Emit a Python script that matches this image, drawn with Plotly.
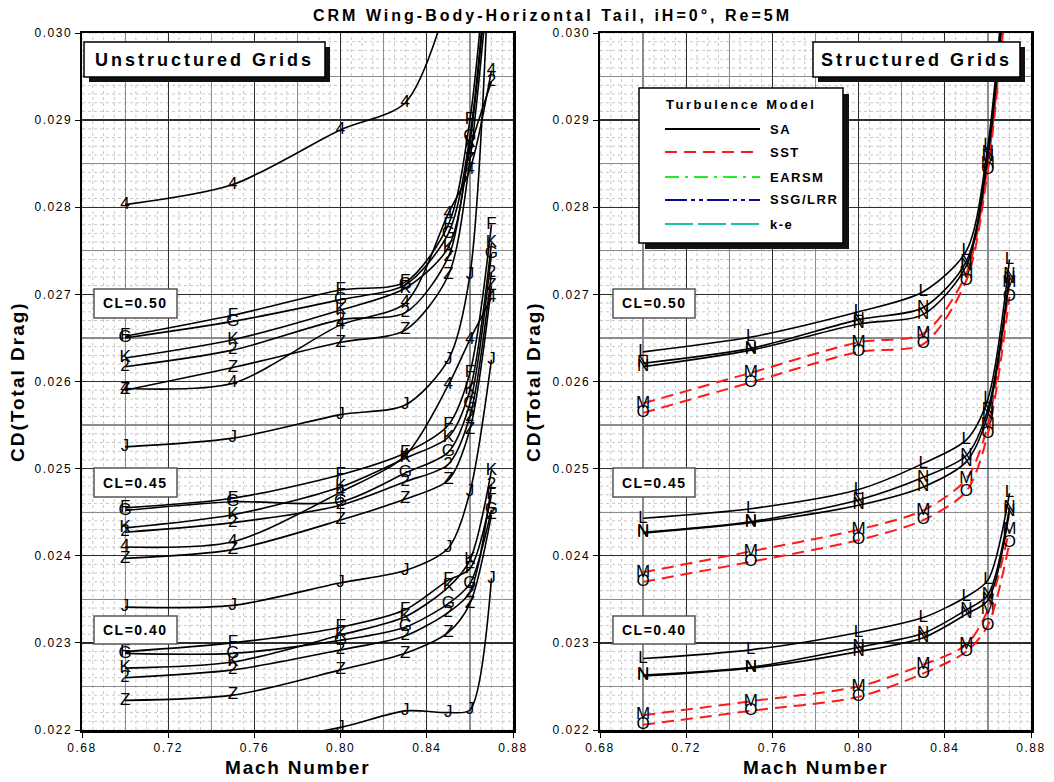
import plotly.graph_objects as go

W, H = 1054, 782

# ---------------- data ----------------
MACH = [0.70, 0.75, 0.80, 0.83, 0.85, 0.86, 0.87]

# Unstructured grids (left panel)
U50_F = [0.02652, 0.02676, 0.02705, 0.02714, 0.02780, 0.02900, 0.03160]
U50_G = [0.02650, 0.02669, 0.02694, 0.02711, 0.02770, 0.02881, 0.03140]
U50_K = [0.02627, 0.02648, 0.02682, 0.02707, 0.02754, 0.02874, 0.03120]
U50_2 = [0.02617, 0.02636, 0.02671, 0.02679, 0.02743, 0.02866, 0.02944]
U50_Z = [0.02590, 0.02616, 0.02645, 0.02659, 0.02722, 0.02854, 0.03100]

U45_F = [0.02455, 0.02466, 0.02493, 0.02518, 0.02550, 0.02610, 0.02780]
U45_G = [0.02452, 0.02462, 0.02462, 0.02495, 0.02519, 0.02575, 0.02747]
U45_K = [0.02432, 0.02447, 0.02479, 0.02512, 0.02536, 0.02590, 0.02759]
U45_2 = [0.02427, 0.02438, 0.02458, 0.02485, 0.02505, 0.02560, 0.02725]
U45_Z = [0.02397, 0.02407, 0.02441, 0.02465, 0.02487, 0.02545, 0.02710]

U40_F = [0.02290, 0.02300, 0.02318, 0.02338, 0.02372, 0.02385, 0.02470]
U40_G = [0.02288, 0.02288, 0.02303, 0.02318, 0.02345, 0.02368, 0.02453]
U40_K = [0.02271, 0.02278, 0.02309, 0.02330, 0.02364, 0.02395, 0.02498]
U40_2 = [0.02260, 0.02269, 0.02292, 0.02308, 0.02335, 0.02358, 0.02481]
U40_Z = [0.02234, 0.02240, 0.02269, 0.02288, 0.02312, 0.02345, 0.02447]

U_4_HI = [0.02803, 0.02826, 0.02889, 0.02920, 0.03040, 0.03180, 0.03320]
U_4_MID = [0.02592, 0.02598, 0.02665, 0.02690, 0.02793, 0.02843, 0.02957]
U_4_LO = [0.02410, 0.02416, 0.02473, 0.02515, 0.02596, 0.02648, 0.02696]

U_J_HI = [0.02525, 0.02535, 0.02562, 0.02573, 0.02625, 0.02722, 0.03150]
U_J_MID = [0.02341, 0.02343, 0.02369, 0.02383, 0.02409, 0.02473, 0.02625]
U_J_LO = [0.02170, 0.02183, 0.02203, 0.02222, 0.02220, 0.02223, 0.02374]

# Structured grids (right panel): L, N = SA ; M, O = SST
S50_L = [0.02634, 0.02651, 0.02680, 0.02703, 0.02750, 0.02871, 0.03140]
S50_N1 = [0.02621, 0.02638, 0.02671, 0.02685, 0.02738, 0.02863, 0.03120]
S50_N2 = [0.02617, 0.02636, 0.02666, 0.02677, 0.02733, 0.02858, 0.03110]
S50_M = [0.02575, 0.02610, 0.02645, 0.02655, 0.02724, 0.02850, 0.03090]
S50_O = [0.02564, 0.02599, 0.02634, 0.02643, 0.02716, 0.02843, 0.03080]

S45_L = [0.02443, 0.02454, 0.02476, 0.02506, 0.02533, 0.02580, 0.02740]
S45_N1 = [0.02427, 0.02439, 0.02464, 0.02490, 0.02515, 0.02568, 0.02722]
S45_N2 = [0.02426, 0.02438, 0.02458, 0.02479, 0.02508, 0.02562, 0.02718]
S45_M = [0.02381, 0.02405, 0.02430, 0.02452, 0.02488, 0.02550, 0.02713]
S45_O = [0.02370, 0.02393, 0.02418, 0.02441, 0.02474, 0.02540, 0.02697]

S40_L = [0.02282, 0.02292, 0.02312, 0.02329, 0.02353, 0.02372, 0.02472]
S40_N1 = [0.02263, 0.02272, 0.02295, 0.02311, 0.02338, 0.02355, 0.02455]
S40_N2 = [0.02262, 0.02271, 0.02290, 0.02306, 0.02333, 0.02349, 0.02450]
S40_M = [0.02217, 0.02233, 0.02250, 0.02275, 0.02298, 0.02338, 0.02430]
S40_O = [0.02206, 0.02222, 0.02238, 0.02265, 0.02290, 0.02320, 0.02415]

X_TICKS = [0.68, 0.72, 0.76, 0.80, 0.84, 0.88]
X_TICK_LABELS = ["0.68", "0.72", "0.76", "0.80", "0.84", "0.88"]
Y_TICKS = [0.022, 0.023, 0.024, 0.025, 0.026, 0.027, 0.028, 0.029, 0.030]
Y_TICK_LABELS = ["0.022", "0.023", "0.024", "0.025", "0.026", "0.027", "0.028", "0.029", "0.030"]

LEGEND_MODELS = ["SA", "SST", "EARSM", "SSG/LRR", "k-e"]
CL_LABELS = ["CL=0.50", "CL=0.45", "CL=0.40"]

TITLE = "CRM Wing-Body-Horizontal Tail, iH=0°, Re=5M"

LEFT_SERIES = [
    ("F", U50_F), ("G", U50_G), ("K", U50_K), ("2", U50_2), ("Z", U50_Z),
    ("F", U45_F), ("G", U45_G), ("K", U45_K), ("2", U45_2), ("Z", U45_Z),
    ("F", U40_F), ("G", U40_G), ("K", U40_K), ("2", U40_2), ("Z", U40_Z),
    ("4", U_4_HI), ("4", U_4_MID), ("4", U_4_LO),
    ("J", U_J_HI), ("J", U_J_MID), ("J", U_J_LO),
]
RIGHT_SA = [("L", S50_L), ("N", S50_N1), ("N", S50_N2),
            ("L", S45_L), ("N", S45_N1), ("N", S45_N2),
            ("L", S40_L), ("N", S40_N1), ("N", S40_N2)]
RIGHT_SST = [("M", S50_M), ("O", S50_O), ("M", S45_M), ("O", S45_O), ("M", S40_M), ("O", S40_O)]

Y_MIN, Y_MAX = 0.022, 0.030

# ---------------- style ----------------
BOLD = "Liberation Sans Narrow, Liberation Sans, Arial, sans-serif"
REG = "Liberation Sans, Arial, sans-serif"
MARK_FONT = dict(family=REG, size=17, color="black")


def sp(t, ls):
    return f'<span style="letter-spacing:{ls}px">{t}</span>'


def px(x):
    return x / W


def py(y):
    return 1 - y / H


def labels(lab, vals):
    # symbol letters only for points inside the plotted range
    return [lab if Y_MIN <= v <= Y_MAX else "" for v in vals]


fig = go.Figure()

for lab, vals in LEFT_SERIES:
    fig.add_trace(go.Scatter(x=MACH, y=vals, mode="lines+text", text=labels(lab, vals),
                             textposition="middle center", textfont=MARK_FONT,
                             line=dict(color="black", width=1.6, shape="spline", smoothing=0.8),
                             xaxis="x", yaxis="y", showlegend=False, hoverinfo="skip"))
for lab, vals in RIGHT_SST:
    fig.add_trace(go.Scatter(x=MACH, y=vals, mode="lines+text", text=labels(lab, vals),
                             textposition="middle center", textfont=MARK_FONT,
                             line=dict(color="#ff1a1a", width=2, dash="12px,7px", shape="spline", smoothing=0.8),
                             xaxis="x2", yaxis="y2", showlegend=False, hoverinfo="skip"))
for lab, vals in RIGHT_SA:
    fig.add_trace(go.Scatter(x=MACH, y=vals, mode="lines+text", text=labels(lab, vals),
                             textposition="middle center", textfont=MARK_FONT,
                             line=dict(color="black", width=1.6, shape="spline", smoothing=0.8),
                             xaxis="x2", yaxis="y2", showlegend=False, hoverinfo="skip"))

TICKFONT = dict(family=REG, size=12, color="black")
xax = dict(range=[0.68, 0.88], tickmode="array", tickvals=X_TICKS,
           ticktext=[sp(t, 1.5) for t in X_TICK_LABELS], tickfont=TICKFONT,
           showgrid=True, gridcolor="#2e2e2e", gridwidth=1.3,
           minor=dict(tickmode="array", tickvals=[0.70, 0.74, 0.78, 0.82, 0.86],
                      showgrid=True, gridcolor="#8c8c8c", gridwidth=1.2, ticks=""),
           showline=True, linecolor="black", linewidth=2.5, mirror=True,
           ticks="outside", ticklen=5, tickcolor="black", zeroline=False, automargin=False,
           fixedrange=True)
yax = dict(range=[Y_MIN, Y_MAX], tickmode="array", tickvals=Y_TICKS,
           ticktext=[sp(t, 1.5) for t in Y_TICK_LABELS], tickfont=TICKFONT,
           showgrid=True, gridcolor="#2e2e2e", gridwidth=1.3,
           minor=dict(tickmode="array", tickvals=[v + 0.0005 for v in Y_TICKS[:-1]],
                      showgrid=True, gridcolor="#8c8c8c", gridwidth=1.2, ticks=""),
           showline=True, linecolor="black", linewidth=2.5, mirror=True,
           ticks="outside", ticklen=5, tickcolor="black", zeroline=False, automargin=False,
           fixedrange=True)

XL = [px(82), px(513)]
XR = [px(600), px(1031)]
YD = [py(730), py(33)]

fig.update_layout(
    width=W, height=H, autosize=False, template="none",
    margin=dict(l=0, r=0, t=0, b=0),
    paper_bgcolor="white", plot_bgcolor="white",
    xaxis=dict(xax, domain=XL, anchor="y"),
    yaxis=dict(yax, domain=YD, anchor="x"),
    xaxis2=dict(xax, domain=XR, anchor="y2"),
    yaxis2=dict(yax, domain=YD, anchor="x2"),
    showlegend=False,
)

shapes = []
# fine dotted grid
for xa, ya in (("x", "y"), ("x2", "y2")):
    for i in range(41):
        xv = 0.68 + i * 0.005
        shapes.append(dict(type="line", xref=xa, yref=ya + " domain", x0=xv, x1=xv, y0=0, y1=1,
                           line=dict(color="#c8c8c8", width=1, dash="dot"), layer="below"))
    for i in range(81):
        yv = 0.022 + i * 0.0001
        shapes.append(dict(type="line", xref=xa + " domain", yref=ya, x0=0, x1=1, y0=yv, y1=yv,
                           line=dict(color="#c8c8c8", width=1, dash="dot"), layer="below"))

annotations = []


def box(x0, y0, x1, y1, shadow=0, lw=1.5, lc="black"):
    if shadow:
        shapes.append(dict(type="rect", xref="paper", yref="paper",
                           x0=px(x0 + shadow), x1=px(x1 + shadow), y0=py(y1 + shadow), y1=py(y0 + shadow),
                           fillcolor="#111111", line=dict(width=0), layer="above"))
    shapes.append(dict(type="rect", xref="paper", yref="paper", x0=px(x0), x1=px(x1), y0=py(y1), y1=py(y0),
                       fillcolor="white", line=dict(color=lc, width=lw), layer="above"))


def text(x, y, t, size, family=BOLD, ls=2, bold=True, xanchor="center", angle=0):
    tt = f"<b>{t}</b>" if bold else t
    annotations.append(dict(xref="paper", yref="paper", x=px(x), y=py(y), text=sp(tt, ls),
                            showarrow=False, xanchor=xanchor, yanchor="middle", textangle=angle,
                            font=dict(family=family, size=size, color="black")))


# panel headers
box(84, 42, 325, 77, shadow=5)
text(204, 60, "Unstructured Grids", 18, ls=3)
box(813, 42, 1020, 77, shadow=5)
text(916, 60, "Structured Grids", 18, ls=3)

# CL boxes
for (y0, y1), lab in zip([(289, 318), (468, 497), (616, 644)], CL_LABELS):
    box(94, y0, 177, y1, lw=1.5, lc="#555555")
    text(135.5, (y0 + y1) / 2, lab, 14, family=REG, ls=1.5)
    box(613, y0, 695, y1, lw=1.5, lc="#555555")
    text(654, (y0 + y1) / 2, lab, 14, family=REG, ls=1.5)

# legend
box(639, 88, 843, 243, shadow=6, lw=1.5)
text(741, 104, "Turbulence Model", 13, ls=2.5)
LEG_STYLES = [dict(color="black", width=2, dash="solid"),
              dict(color="#ff1a1a", width=2, dash="12px,7px"),
              dict(color="#22ee22", width=2, dash="14px,6px,3px,6px"),
              dict(color="#0a0a99", width=2, dash="22px,4px,4px,4px,4px,4px"),
              dict(color="#1cc0a8", width=2, dash="28px,5px")]
for i, (name, st) in enumerate(zip(LEGEND_MODELS, LEG_STYLES)):
    yy = [129, 152, 177, 200, 224][i]
    shapes.append(dict(type="line", xref="paper", yref="paper", x0=px(665), x1=px(760), y0=py(yy), y1=py(yy),
                       line=st, layer="above"))
    text(768, yy, name, 13, ls=1.5, xanchor="left")

# titles
text(552, 15, TITLE, 16, ls=3)
text(297, 767, "Mach Number", 19, ls=1.8)
text(815, 767, "Mach Number", 19, ls=1.8)
text(17, 382, "CD(Total Drag)", 19, ls=2, angle=-90)
text(533, 382, "CD(Total Drag)", 19, ls=2, angle=-90)

fig.update_layout(shapes=shapes, annotations=annotations)

fig.write_html("out.html", include_plotlyjs=True, full_html=True,
               config={"displayModeBar": False, "staticPlot": True},
               post_script="document.body.style.margin='0';document.body.style.overflow='hidden';")
